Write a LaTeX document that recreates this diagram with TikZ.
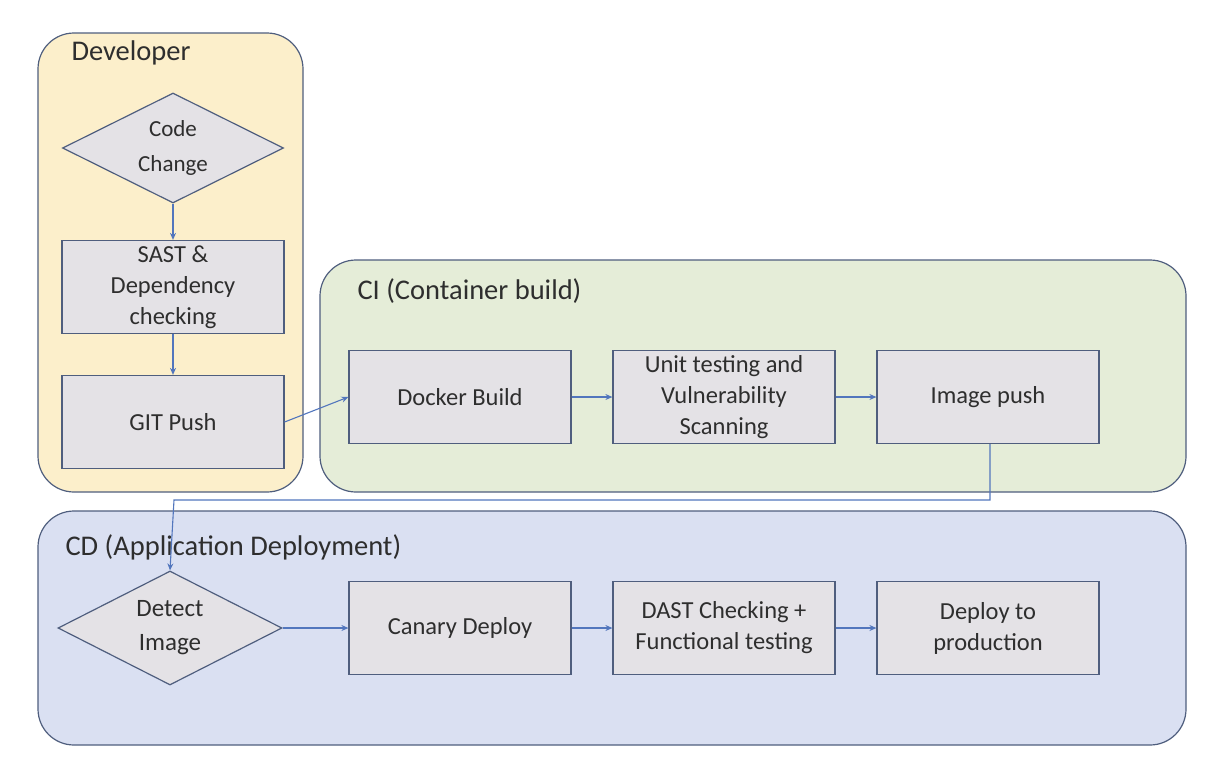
\documentclass[tikz,border=0pt]{standalone}
\usepackage{fontspec}
\setmainfont{Carlito}
\usetikzlibrary{shapes.geometric,arrows.meta}
\definecolor{devfill}{HTML}{FCEFCB}
\definecolor{cifill}{HTML}{E5EDD8}
\definecolor{cdfill}{HTML}{DAE0F2}
\definecolor{boxfill}{HTML}{E4E2E6}
\definecolor{edge}{HTML}{4F5E7E}
\definecolor{arrowc}{HTML}{5276BD}
\definecolor{txt}{HTML}{2E2E2E}
\tikzset{
  grp/.style={draw=edge, line width=1.2pt, rounded corners=36pt},
  stepbox/.style={draw=edge, fill=boxfill, line width=1.2pt, minimum width=222pt, minimum height=93pt, align=center, text=txt, font=\fontsize{24.5}{31}\selectfont, inner sep=0pt},
  decide/.style={draw=edge, fill=boxfill, line width=1.2pt, diamond, aspect=2, align=center, text=txt, inner sep=0pt},
  grplabel/.style={anchor=west, text=txt, font=\fontsize{28.5}{32}\selectfont},
  conn/.style={draw=arrowc, line width=1.1pt, -{Stealth[length=7pt,width=6pt]}}
}
\begin{document}
\begin{tikzpicture}[x=1pt,y=-1pt]
\useasboundingbox (0,0) rectangle (1226,782);
% groups
\draw[grp, fill=devfill] (38,33) rectangle (303,492);
\draw[grp, fill=cifill] (320,260) rectangle (1186,492);
\draw[grp, fill=cdfill] (38,511) rectangle (1186,745);
\node[grplabel] (devlab) at (68,53) {Developer};
\node[grplabel] (cilab) at (354,291) {CI (Container build)};
\node[grplabel] (cdlab) at (62,547) {CD (Application Deployment)};
% developer
\node[decide, minimum width=221pt, minimum height=110pt, font=\fontsize{23}{35}\selectfont] (code) at (173,148) {Code\\Change};
\node[stepbox] (sast) at (173,287) {SAST \&\\Dependency\\checking};
\node[stepbox] (git) at (173,422) {GIT Push};
% CI
\node[stepbox] (docker) at (460,397) {Docker Build};
\node[stepbox] (unit) at (724,397) {Unit testing and\\Vulnerability\\Scanning};
\node[stepbox] (push) at (988,397) {Image push};
% CD
\node[decide, minimum width=224pt, minimum height=114pt, font=\fontsize{25}{34}\selectfont] (detect) at (170,628) {Detect\\Image};
\node[stepbox] (canary) at (460,628) {Canary Deploy};
\node[stepbox] (dast) at (724,628) {DAST Checking +\\Functional testing};
\node[stepbox] (prod) at (988,628) {Deploy to\\production};
% connectors
\draw[conn] (code.south) -- (sast.north);
\draw[conn] (sast.south) -- (git.north);
\draw[conn] (git.east) -- (docker.west);
\draw[conn] (docker.east) -- (unit.west);
\draw[conn] (unit.east) -- (push.west);
\coordinate (t1) at (990,500);
\coordinate (t2) at (174,500);
\draw[conn] (push.south -| t1) -- (t1) -- (t2) -- (detect.north);
\draw[conn] (detect.east) -- (canary.west);
\draw[conn] (canary.east) -- (dast.west);
\draw[conn] (dast.east) -- (prod.west);
\end{tikzpicture}
\end{document}
